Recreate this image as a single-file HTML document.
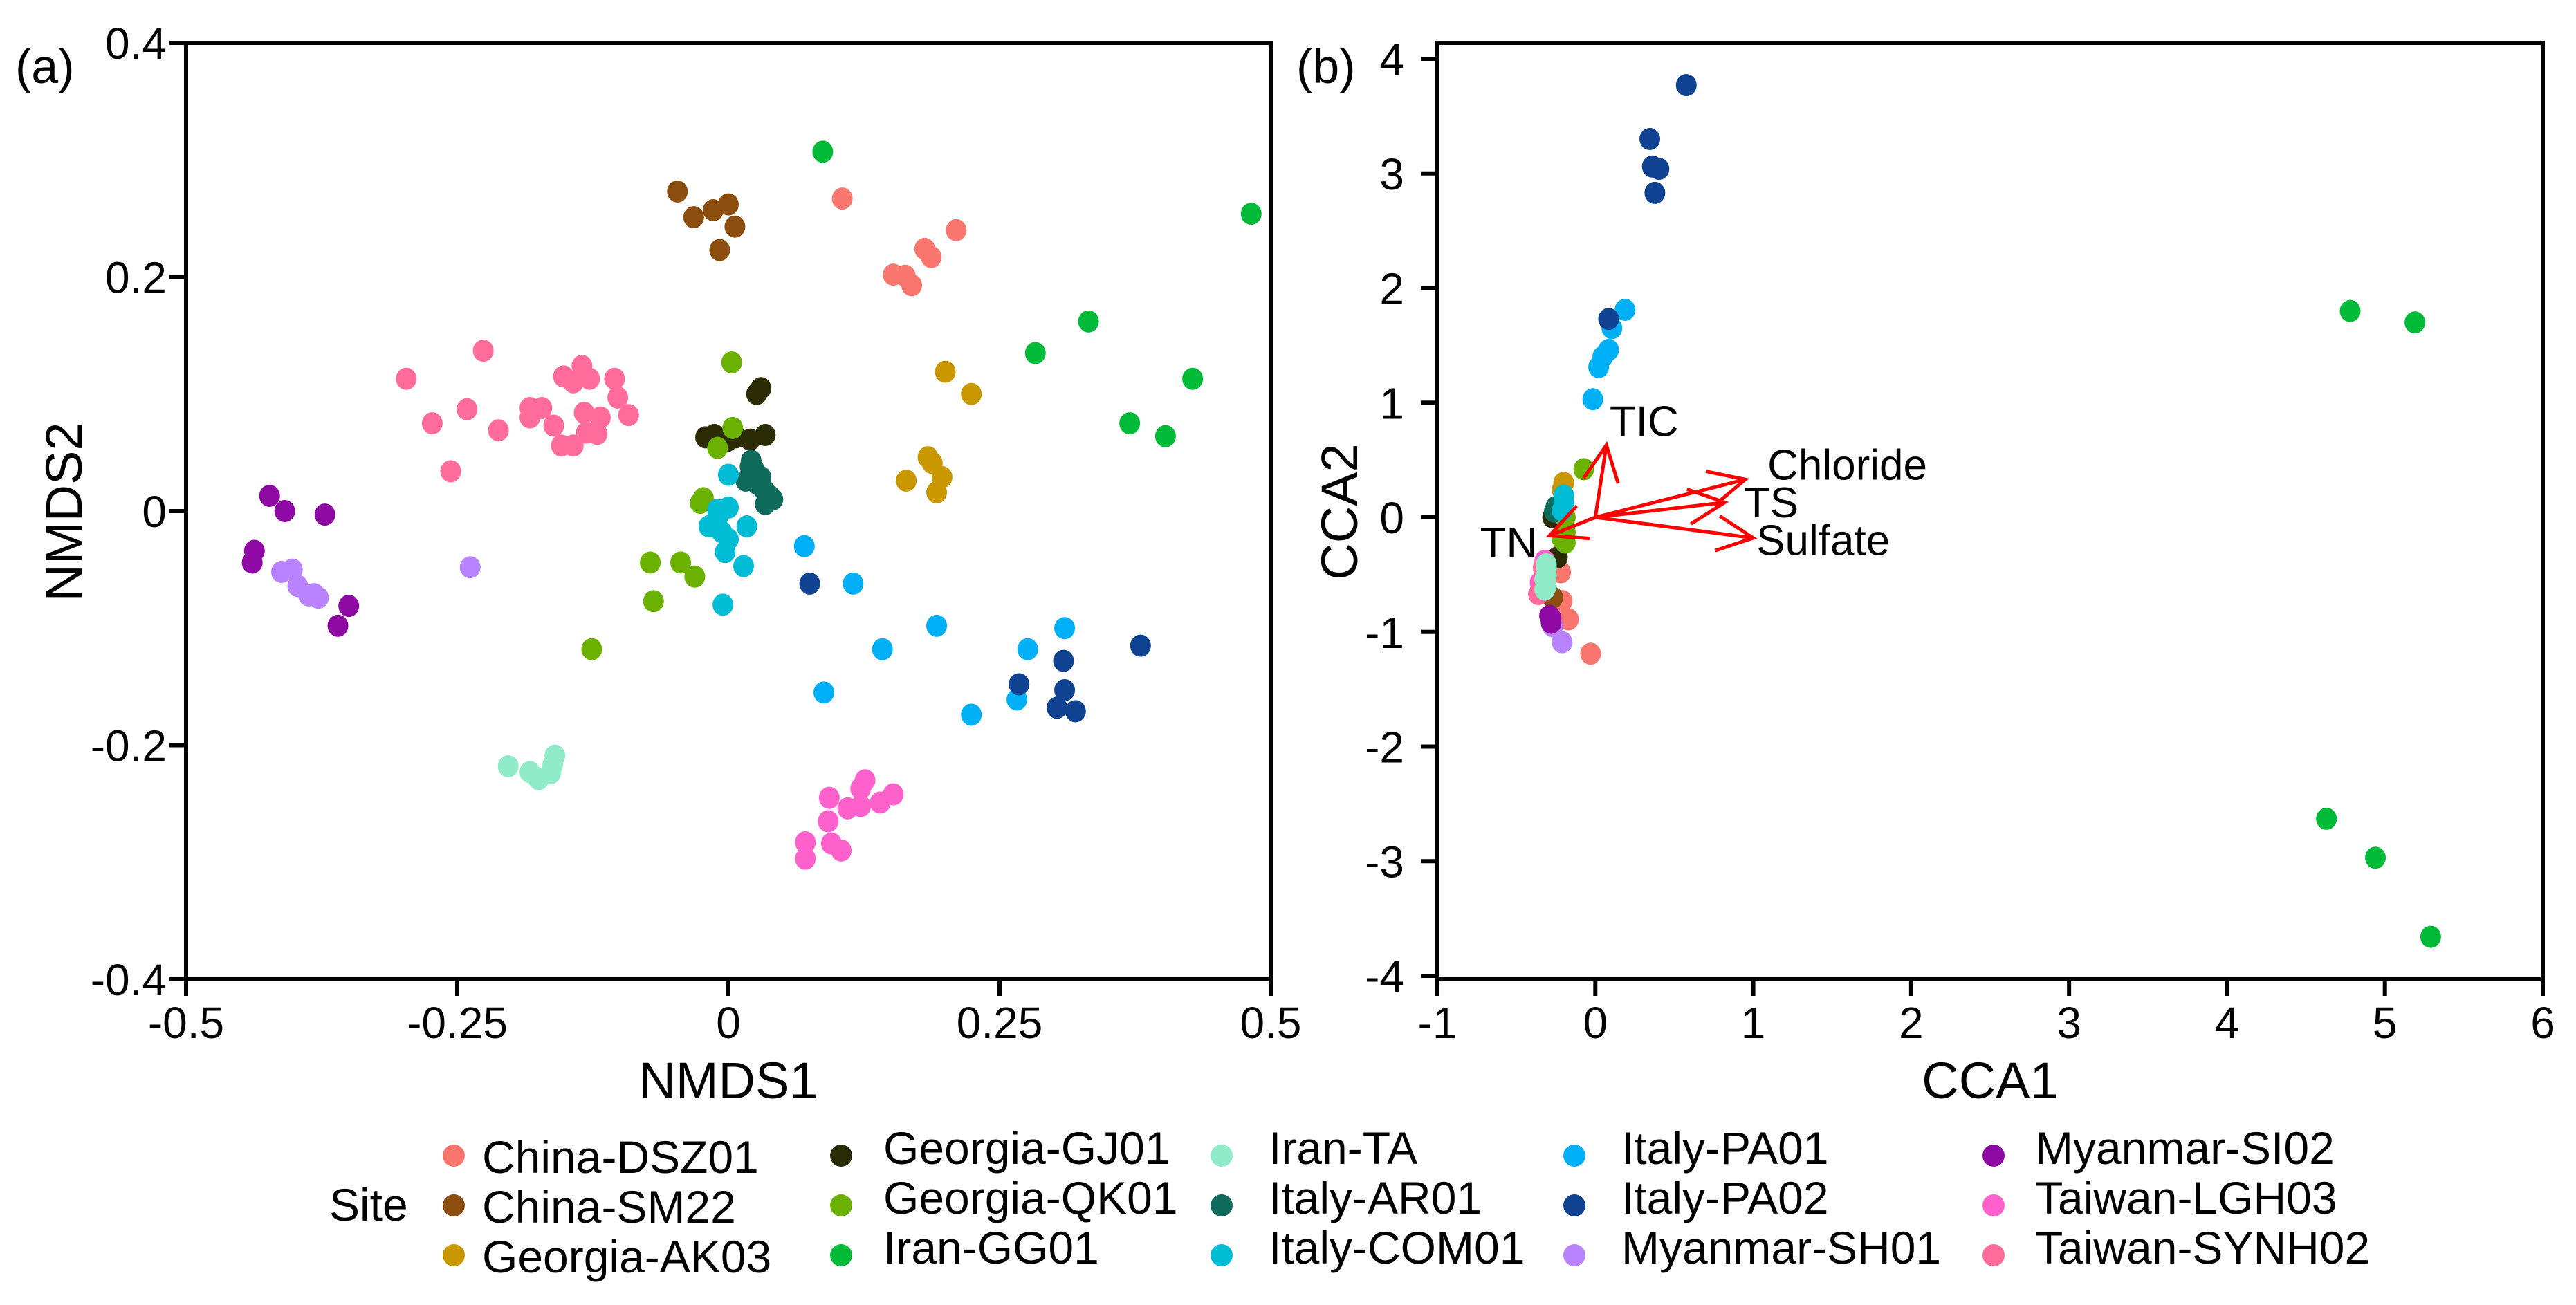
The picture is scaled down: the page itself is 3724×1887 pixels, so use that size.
<!DOCTYPE html>
<html><head><meta charset="utf-8"><style>
html,body{margin:0;padding:0;background:#fff;}
svg{display:block;font-family:"Liberation Sans",Arial,sans-serif;}
</style></head><body>
<svg id="chart" width="3724" height="1887" viewBox="0 0 3724 1887" xmlns="http://www.w3.org/2000/svg">
<rect x="0" y="0" width="3724" height="1887" fill="#fff"/>
<g id="panelA"></g>
<g id="panelB"></g>
<g id="legend"></g>
</svg>
<script>
const sites = ["China-DSZ01","China-SM22","Georgia-AK03","Georgia-GJ01","Georgia-QK01","Iran-GG01","Iran-TA","Italy-AR01","Italy-COM01","Italy-PA01","Italy-PA02","Myanmar-SH01","Myanmar-SI02","Taiwan-LGH03","Taiwan-SYNH02"];
const siteColors = ["#F8766D","#8B4E0E","#C99800","#2B2B06","#6BB100","#00BA38","#8FEBC8","#0F6B5C","#00BCD4","#00B0F6","#0F4392","#B983FF","#8E08A4","#FF61CC","#FF6C9C"];

const nmdsX = [
 [0.105,0.210,0.181,0.187,0.152,0.163,0.169],
 [-0.047,-0.032,-0.014,0.000,0.006,-0.008],
 [0.200,0.224,0.184,0.188,0.197,0.192,0.164],
 [0.026,0.030,-0.021,-0.013,-0.001,0.020,0.034,0.007],
 [0.003,0.004,-0.010,-0.026,-0.023,-0.072,-0.044,-0.031,-0.069,-0.126],
 [0.087,0.482,0.332,0.283,0.428,0.370,0.403],
 [-0.203,-0.183,-0.175,-0.164,-0.160,-0.162],
 [0.021,0.024,0.016,0.027,0.033,0.038,0.041,0.034,0.020,0.030],
 [0.000,0.000,-0.010,-0.018,-0.006,0.000,-0.003,0.017,0.014,-0.005,-0.010],
 [0.070,0.115,0.088,0.142,0.192,0.224,0.266,0.276,0.310],
 [0.075,0.380,0.309,0.268,0.310,0.303,0.320],
 [-0.238,-0.412,-0.402,-0.397,-0.387,-0.378,-0.382],
 [-0.423,-0.409,-0.372,-0.437,-0.439,-0.350,-0.360],
 [0.126,0.122,0.093,0.110,0.122,0.140,0.152,0.092,0.071,0.071,0.095,0.104],
 [-0.297,-0.226,-0.273,-0.241,-0.212,-0.256,-0.183,-0.172,-0.183,-0.161,-0.152,-0.135,-0.143,-0.128,-0.154,-0.143,-0.105,-0.102,-0.092,-0.133,-0.118,-0.121,-0.131]
];
const nmdsY = [
 [0.267,0.240,0.224,0.217,0.202,0.201,0.193],
 [0.273,0.251,0.257,0.262,0.243,0.223],
 [0.119,0.100,0.046,0.041,0.029,0.016,0.026],
 [0.100,0.105,0.063,0.065,0.060,0.061,0.065,0.063],
 [0.127,0.071,0.054,0.007,0.011,-0.044,-0.044,-0.056,-0.077,-0.118],
 [0.307,0.254,0.162,0.135,0.113,0.075,0.064],
 [-0.218,-0.223,-0.229,-0.224,-0.209,-0.217],
 [0.043,0.035,0.026,0.023,0.018,0.013,0.010,0.006,0.038,0.029],
 [0.031,0.003,-0.006,-0.013,-0.018,-0.024,-0.035,-0.013,-0.047,-0.080,0.001],
 [-0.030,-0.062,-0.155,-0.118,-0.098,-0.174,-0.161,-0.118,-0.100],
 [-0.062,-0.115,-0.128,-0.148,-0.153,-0.168,-0.171],
 [-0.048,-0.052,-0.050,-0.064,-0.072,-0.074,-0.071],
 [0.013,0.000,-0.003,-0.034,-0.044,-0.081,-0.098],
 [-0.230,-0.237,-0.245,-0.254,-0.252,-0.249,-0.242,-0.265,-0.283,-0.297,-0.284,-0.290],
 [0.113,0.137,0.075,0.087,0.069,0.034,0.088,0.088,0.080,0.073,0.115,0.124,0.110,0.113,0.056,0.056,0.113,0.097,0.082,0.084,0.080,0.066,0.067]
];
const ccaX = [
 [-0.22,-0.21,-0.17,-0.03],
 [-0.27],
 [-0.20,-0.21],
 [-0.27,-0.24],
 [-0.073,-0.19,-0.19,-0.19,-0.21],
 [4.78,5.19,4.63,4.94,5.29],
 [-0.31,-0.32,-0.31,-0.31,-0.31,-0.32],
 [-0.25,-0.26],
 [-0.20,-0.20,-0.21],
 [0.188,0.105,0.084,0.047,0.021,-0.016],
 [0.576,0.345,0.361,0.403,0.377,0.084],
 [-0.21,-0.27],
 [-0.28,-0.28,-0.29],
 [-0.32,-0.35],
 [-0.33,-0.36,-0.33]
];
const ccaY = [
 [-0.48,-0.73,-0.89,-1.19],
 [-0.70],
 [0.30,0.24],
 [0.00,-0.35],
 [0.42,0.00,-0.13,-0.22,-0.19],
 [1.80,1.70,-2.63,-2.97,-3.66],
 [-0.44,-0.54,-0.60,-0.51,-0.41,-0.63],
 [0.09,0.05],
 [0.19,0.13,0.06],
 [1.81,1.65,1.46,1.40,1.31,1.03],
 [3.77,3.30,3.06,3.04,2.83,1.73],
 [-1.09,-0.95],
 [-0.88,-0.92,-0.86],
 [-0.38,-0.57],
 [-0.44,-0.67,-0.57]
];
const ccaDrawOrder = [0,1,2,3,4,5,7,8,9,10,11,12,13,14,6];
const envNames = ["TIC","Chloride","TS","Sulfate","TN"];
const envX = [0.07,0.95,0.82,1.00,-0.29];
const envY = [0.63,0.33,0.13,-0.18,-0.16];
const envLabelX = [0.09,1.09,0.94,1.02,-0.73];
const envLabelY = [0.71,0.33,0.0,-0.33,-0.35];
const ticksAx = [-0.5,-0.25,0,0.25,0.5];
const ticksAxLabels = ["-0.5","-0.25","0","0.25","0.5"];
const ticksAy = [-0.4,-0.2,0,0.2,0.4];
const ticksAyLabels = ["-0.4","-0.2","0","0.2","0.4"];
const ticksBx = [-1,0,1,2,3,4,5,6];
const ticksBy = [-4,-3,-2,-1,0,1,2,3,4];

const NS="http://www.w3.org/2000/svg";
function mk(tag, attrs, parent){const e=document.createElementNS(NS,tag);for(const k in attrs)e.setAttribute(k,attrs[k]);parent.appendChild(e);return e;}

const A={l:269,r:1837,t:62,b:1416};
const axA=v=>A.l+(v+0.5)/1.0*(A.r-A.l);
const ayA=v=>A.b-(v+0.4)/0.8*(A.b-A.t);
const B={l:2078,r:3676,t:62,b:1416};
const axB=v=>B.l+(v+1)/7*(B.r-B.l);
const ayB=v=>1411-(v+4)/8*(1411-85);

function frame(g,P,name){
  const r=mk('rect',{x:P.l,y:P.t,width:P.r-P.l,height:P.b-P.t,fill:'none',stroke:'#000','stroke-width':6},g);
  
  
}
function ticks(g,P,xs,xl,xf,ys,yl,yf,yOff){
  xs.forEach((v,i)=>{
    const x=xf(v);
    const t=mk('line',{x1:x,y1:P.b,x2:x,y2:P.b+24,stroke:'#000','stroke-width':6},g);
    
    
    const tx=mk('text',{x:x,y:P.b+85,'font-size':64,'text-anchor':'middle',fill:'#000'},g);
    tx.textContent=xl[i];
    
    
  });
  ys.forEach((v,i)=>{
    const y=yf(v);
    const t=mk('line',{x1:P.l-24,y1:y,x2:P.l,y2:y,stroke:'#000','stroke-width':6},g);
    
    
    const tx=mk('text',{x:P.l-yOff,y:y+23,'font-size':64,'text-anchor':'end',fill:'#000'},g);
    tx.textContent=yl[i];
    
    
  });
}
function txt(g,s,x,y,size,anchor,name,rot){
  const a={x:x,y:y,'font-size':size,'text-anchor':anchor,fill:'#000'};
  if(rot)a.transform='rotate(-90 '+x+' '+y+')';
  const t=mk('text',a,g);t.textContent=s;
  
  
  return t;
}

// Panel A
const gA=document.getElementById('panelA');
frame(gA,A,'nmds-plot-frame');
ticks(gA,A,ticksAx,ticksAxLabels,axA,ticksAy,ticksAyLabels,ayA,28);
txt(gA,'NMDS1',(A.l+A.r)/2,1588,74,'middle','x-axis-title');
txt(gA,'NMDS2',118,740,74,'middle','y-axis-title',true);
txt(gA,'(a)',22,120,70,'start','panel-label-a');
sites.forEach((s,i)=>{
  nmdsX[i].forEach((v,j)=>{
    const c=mk('ellipse',{cx:axA(v),cy:ayA(nmdsY[i][j]),rx:15,ry:16,fill:siteColors[i]},gA);
    
    
  });
});

// Panel B
const gB=document.getElementById('panelB');
frame(gB,B,'cca-plot-frame');
ticks(gB,B,ticksBx,ticksBx.map(String),axB,ticksBy,ticksBy.map(String),ayB,48);
txt(gB,'CCA1',(B.l+B.r)/2,1588,74,'middle','x-axis-title');
txt(gB,'CCA2',1962,740,74,'middle','y-axis-title',true);
txt(gB,'(b)',1874,120,70,'start','panel-label-b');
ccaDrawOrder.forEach(i=>{
  ccaX[i].forEach((v,j)=>{
    const c=mk('ellipse',{cx:axB(v),cy:ayB(ccaY[i][j]),rx:15,ry:16,fill:siteColors[i]},gB);
    
    
  });
});
const ox=axB(0), oy=ayB(0);
envNames.forEach((n,i)=>{
  const x2=axB(envX[i]), y2=ayB(envY[i]);
  const ang=Math.atan2(y2-oy,x2-ox), L=58, h=0.45;
  const d='M'+ox+','+oy+'L'+x2+','+y2+
    'M'+(x2-L*Math.cos(ang-h))+','+(y2-L*Math.sin(ang-h))+'L'+x2+','+y2+
    'L'+(x2-L*Math.cos(ang+h))+','+(y2-L*Math.sin(ang+h));
  const p=mk('path',{d:d,fill:'none',stroke:'#FF0000','stroke-width':5},gB);
  
  
  txt(gB,n,axB(envLabelX[i]),ayB(envLabelY[i]),62,'start','env-arrow-label');
});

// Legend
const gL=document.getElementById('legend');
txt(gL,'Site',476,1765,66,'start','legend-title');
const colX=[656,1216,1766,2276,2882];
const textX=[697,1277,1834,2344,2942];
const rowY=[1671,1743,1815];
sites.forEach((s,i)=>{
  const col=Math.floor(i/3), row=i%3;
  const e=mk('ellipse',{cx:colX[col],cy:rowY[row],rx:16,ry:16,fill:siteColors[i]},gL);
  
  
  const off = col===0 ? 25 : 12;
  txt(gL,s,textX[col],rowY[row]+off,66,'start','legend-entry');
});
</script>
</body></html>
